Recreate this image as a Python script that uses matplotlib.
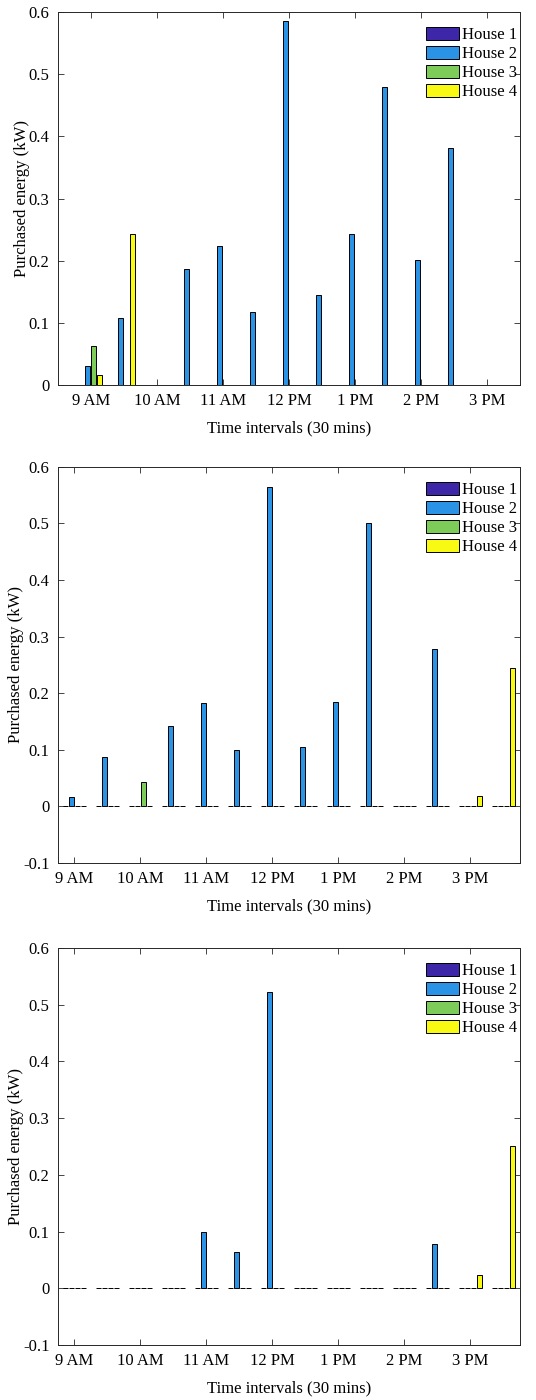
import numpy as np
import matplotlib
matplotlib.use('Agg')
import matplotlib.pyplot as plt

plt.rcParams['font.family'] = ['Liberation Serif', 'DejaVu Serif']
plt.rcParams['axes.unicode_minus'] = False

houses = ['House 1', 'House 2', 'House 3', 'House 4']
colors = ['#3E26A8', '#2B93E6', '#7DCB58', '#F8FA14']
tick_labels = ['9 AM', '10 AM', '11 AM', '12 PM', '1 PM', '2 PM', '3 PM']

# panel 1: 13 half-hour intervals
p1_h1 = [0, 0, 0, 0, 0, 0, 0, 0, 0, 0, 0, 0, 0]
p1_h2 = [0.030, 0.108, 0, 0.187, 0.224, 0.117, 0.586, 0.145, 0.243, 0.480, 0.201, 0.381, 0]
p1_h3 = [0.063, 0, 0, 0, 0, 0, 0, 0, 0, 0, 0, 0, 0]
p1_h4 = [0.016, 0.243, 0, 0, 0, 0, 0, 0, 0, 0, 0, 0, 0]

# panel 2: 14 half-hour intervals
p2_h1 = [0, 0, 0, 0, 0, 0, 0, 0, 0, 0, 0, 0, 0, 0]
p2_h2 = [0.017, 0.087, 0, 0.142, 0.183, 0.099, 0.564, 0.105, 0.185, 0.501, 0, 0.279, 0, 0]
p2_h3 = [0, 0, 0.043, 0, 0, 0, 0, 0, 0, 0, 0, 0, 0, 0]
p2_h4 = [0, 0, 0, 0, 0, 0, 0, 0, 0, 0, 0, 0, 0.019, 0.244]

# panel 3
p3_h1 = [0, 0, 0, 0, 0, 0, 0, 0, 0, 0, 0, 0, 0, 0]
p3_h2 = [0, 0, 0, 0, 0.100, 0.064, 0.523, 0, 0, 0, 0, 0.078, 0, 0]
p3_h3 = [0, 0, 0, 0, 0, 0, 0, 0, 0, 0, 0, 0, 0, 0]
p3_h4 = [0, 0, 0, 0, 0, 0, 0, 0, 0, 0, 0, 0, 0.024, 0.250]

panels = [
    ([p1_h1, p1_h2, p1_h3, p1_h4], (0, 14), (0, 0.6)),
    ([p2_h1, p2_h2, p2_h3, p2_h4], (0.5, 14.5), (-0.1, 0.6)),
    ([p3_h1, p3_h2, p3_h3, p3_h4], (0.5, 14.5), (-0.1, 0.6)),
]

# axes rectangles in figure fraction [left, bottom, width, height]
rects = [
    [0.108, 0.725, 0.862, 0.2664],
    [0.108, 0.3836, 0.862, 0.2829],
    [0.108, 0.0393, 0.862, 0.2836],
]

fig = plt.figure(figsize=(5.36, 14), dpi=100)

group_w = 4 / 5.5
step = group_w / 4
bar_w = step * 0.85
fs = 12

for (series, xlim, ylim), rect in zip(panels, rects):
    ax = fig.add_axes(rect)
    n = len(series[0])
    x = np.arange(1, n + 1)
    for i, vals in enumerate(series):
        off = (i - 1.5) * step
        ax.bar(x + off, vals, width=bar_w, color=colors[i], edgecolor='black',
               linewidth=0.7, label=houses[i], zorder=2)
    ax.set_xlim(*xlim)
    ax.set_ylim(*ylim)
    ax.set_xticks(np.arange(1, 14, 2))
    ax.set_xticklabels(tick_labels)
    yt = np.round(np.arange(ylim[0], 0.61, 0.1), 1)
    ax.set_yticks(yt)
    ax.set_yticklabels([f'{v:g}' for v in yt])
    ax.tick_params(direction='in', top=True, right=True, length=4, width=0.6,
                   labelsize=fs, pad=6, colors='#262626', labelcolor='black')
    for s in ax.spines.values():
        s.set_linewidth(0.7)
        s.set_color('#262626')
    ax.set_xlabel('Time intervals (30 mins)', fontsize=fs, labelpad=8)
    ax.set_ylabel('Purchased energy (kW)', fontsize=fs, labelpad=-1)
    h_px = rect[3] * 1400
    w_px = rect[2] * 536
    ax.legend(loc='upper right', bbox_to_anchor=(1.0 + 2 / w_px, 1.0 - 10 / h_px),
              frameon=False, fontsize=fs, handlelength=2.0, handleheight=0.85,
              handletextpad=0.15, labelspacing=0.15, borderaxespad=0.0,
              borderpad=0.3)

fig.savefig('out.png', dpi=100)
